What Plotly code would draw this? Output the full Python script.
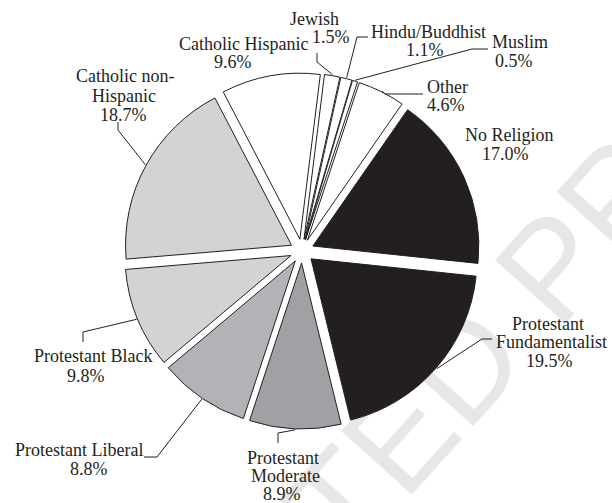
import math
import plotly.graph_objects as go

# Religious affiliation shares (percent), listed clockwise starting at 3 o'clock
categories = [
    "Protestant Fundamentalist", "Protestant Moderate", "Protestant Liberal",
    "Protestant Black", "Catholic non-Hispanic", "Catholic Hispanic",
    "Jewish", "Hindu/Buddhist", "Muslim", "Other", "No Religion",
]
shares = [19.5, 8.9, 8.8, 9.8, 18.7, 9.6, 1.5, 1.1, 0.5, 4.6, 17.0]
fills = [
    "#231f20", "#9fa1a4", "#b1b3b6", "#d1d3d4", "#d1d3d4", "#ffffff",
    "#ffffff", "#ffffff", "#ffffff", "#ffffff", "#231f20",
]

# Label text lines (the last line of each label is the percentage)
name_lines = {
    "Protestant Fundamentalist": ["Protestant", "Fundamentalist"],
    "Protestant Moderate": ["Protestant", "Moderate"],
    "Protestant Liberal": ["Protestant Liberal"],
    "Protestant Black": ["Protestant Black"],
    "Catholic non-Hispanic": ["Catholic non-", "Hispanic"],
    "Catholic Hispanic": ["Catholic Hispanic"],
    "Jewish": ["Jewish"],
    "Hindu/Buddhist": ["Hindu/Buddhist"],
    "Muslim": ["Muslim"],
    "Other": ["Other"],
    "No Religion": ["No Religion"],
}

W, H = 612, 503
CX, CY, R, PULL = 302.0, 251.0, 166.0, 0.072
ROTATION = 96
INK = "#231f20"
FONT = "Liberation Serif"

half = R * (1 + PULL)
dom_x = [(CX - half) / W, (CX + half) / W]
dom_y = [(H - CY - half) / H, (H - CY + half) / H]


def px(x, y):
    return x / W, 1 - y / H


# Label placement: centre x of each line, centre y of each line (pixels)
label_pos = {
    "Protestant Fundamentalist": [(548, 324), (551, 342), (549, 361)],
    "Protestant Moderate": [(283, 458), (285, 476), (282, 494)],
    "Protestant Liberal": [(79, 450), (89, 469)],
    "Protestant Black": [(93, 356), (86, 376)],
    "Catholic non-Hispanic": [(125, 76), (124, 96), (123, 115)],
    "Catholic Hispanic": [(243, 44), (233, 62)],
    "Jewish": [(314, 19), (331, 37)],
    "Hindu/Buddhist": [(429, 32), (425, 50)],
    "Muslim": [(520, 42), (514, 61)],
    "Other": [(447, 87), (446, 105)],
    "No Religion": [(509, 135), (505, 154)],
}

# Leader line elbows, from the slice outward to the label
leaders = {
    "Protestant Fundamentalist": [(482, 339), (492, 339)],
    "Protestant Moderate": [(278, 433), (278, 443)],
    "Protestant Liberal": [(157, 457), (144, 457)],
    "Protestant Black": [(83, 332), (83, 342)],
    "Catholic non-Hispanic": [(118, 130), (118, 122)],
    "Jewish": [(317, 62), (317, 53)],
    "Hindu/Buddhist": [(357, 37), (368, 37)],
    "Muslim": [(472, 49), (488, 49)],
    "Other": [(385, 94), (423, 94)],
}

fig = go.Figure(go.Pie(
    labels=categories,
    values=shares,
    sort=False,
    direction="clockwise",
    rotation=ROTATION,
    pull=PULL,
    marker=dict(colors=fills, line=dict(color=INK, width=1)),
    textinfo="none",
    hoverinfo="label+percent",
    showlegend=False,
    domain=dict(x=dom_x, y=dom_y),
))

annotations = []
shapes = []

# Faint diagonal watermark behind the pie
wx, wy = px(305, 522)
shapes.append(dict(
    type="rect", xref="paper", yref="paper", layer="below",
    x0=wx - 0.001, x1=wx + 0.001, y0=wy - 0.001, y1=wy + 0.001,
    line=dict(width=0), fillcolor="rgba(0,0,0,0)",
    label=dict(text="UNCORRECTED PROOF", textangle=-48,
               textposition="middle center",
               font=dict(family="Liberation Sans", size=138,
                         color="#e6e7e8")),
))

total = sum(shares)
cum = 0.0
for name, v in zip(categories, shares):
    mid_cw = math.radians(ROTATION + (cum + v / 2) / total * 360)
    cum += v
    texts = name_lines[name] + [f"{v:.1f}%"]
    for t, (lx, ly) in zip(texts, label_pos[name]):
        ax, ay = px(lx, ly)
        annotations.append(dict(
            x=ax, y=ay, xref="paper", yref="paper", text=t, showarrow=False,
            xanchor="center", yanchor="middle", borderpad=0,
            font=dict(family=FONT, size=18, color=INK),
        ))
    if name in leaders:
        # Leader starts on the outer arc at the middle of the pulled slice
        rr = R * (1 + PULL) + 1
        sx = CX + rr * math.sin(mid_cw)
        sy = CY - rr * math.cos(mid_cw)
        pts = [(sx, sy)] + leaders[name]
        path = "M " + " L ".join(
            f"{px(x, y)[0]:.5f},{px(x, y)[1]:.5f}" for x, y in pts)
        shapes.append(dict(type="path", xref="paper", yref="paper", path=path,
                           line=dict(color=INK, width=1)))

fig.update_layout(
    width=W, height=H,
    margin=dict(l=0, r=0, t=0, b=0),
    paper_bgcolor="white", plot_bgcolor="white",
    annotations=annotations, shapes=shapes,
)

fig.write_html("out.html")
